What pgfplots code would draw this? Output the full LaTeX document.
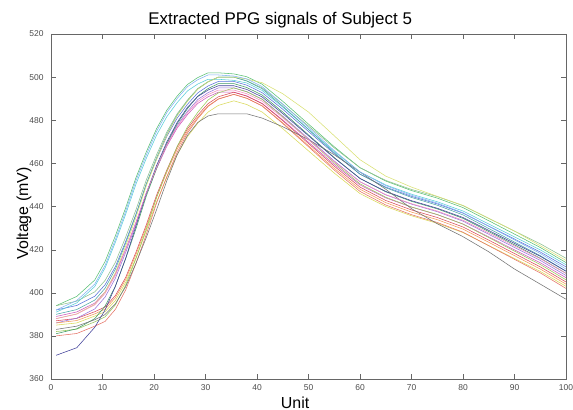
\documentclass[border=0pt]{standalone}
\usepackage{fontspec}
\setmainfont{Liberation Sans}
\usepackage{pgfplots}
\usepackage{pgfplotstable}
\pgfplotsset{compat=1.18}
\definecolor{k1}{rgb}{0.35,0.75,0.45}
\definecolor{k2}{rgb}{0.55,0.75,0.55}
\definecolor{k3}{rgb}{0.35,0.45,0.85}
\definecolor{k4}{rgb}{0.35,0.80,0.85}
\definecolor{k5}{rgb}{0.30,0.65,0.65}
\definecolor{k6}{rgb}{0.80,0.35,0.75}
\definecolor{k7}{rgb}{0.85,0.30,0.35}
\definecolor{k8}{rgb}{0.60,0.45,0.85}
\definecolor{k9}{rgb}{0.95,0.60,0.35}
\definecolor{k10}{rgb}{0.85,0.85,0.35}
\definecolor{k11}{rgb}{0.85,0.88,0.45}
\definecolor{k12}{rgb}{0.60,0.78,0.35}
\definecolor{k13}{rgb}{0.25,0.60,0.40}
\definecolor{k14}{rgb}{0.90,0.45,0.40}
\definecolor{k15}{rgb}{0.25,0.25,0.60}
\definecolor{k16}{rgb}{0.45,0.45,0.45}
\definecolor{k17}{rgb}{0.95,0.55,0.75}
\definecolor{k18}{rgb}{0.50,0.70,0.95}
\pgfplotstableread{
x c1 c2 c3 c4 c5 c6 c7 c8 c9 c10 c11 c12 c13 c14 c15 c16 c17 c18
1 394 394 392 391 390 389 387 386 386 385 388 382 381 380 371 383 388 392
5 398.3 396.1 394.1 395.3 392.2 391.1 388.1 388.2 387.1 386 390.2 383.1 383.3 381.1 374.5 384.5 390.1 396.4
8.5 405.9 400.4 398.4 402.9 396.6 395.2 391.2 392.5 390.2 389.2 394.7 386.5 388 384.5 384 387.5 394.4 404
10.5 414.5 405.7 403.7 411.5 402.1 400.4 393.4 398 392.4 391.2 400.3 388.8 393.8 386.7 392 389.9 399.7 412.7
12.5 426.4 414.1 412.1 423.4 410.9 408.8 398.7 406.7 397.7 396.4 409.3 394.4 403 392.3 403 394.9 408.1 424.7
14.5 439.4 425.8 423.8 436.4 423 420.2 407.1 418.7 406.1 404.8 421.6 403.5 415.8 401.3 416 402.8 419.8 437.8
16.5 453.4 438.5 436.5 450.4 436.2 432.7 418.8 431.8 417.8 416.2 435 415.9 429.7 413.6 431 413.7 432.5 452
18.5 465.3 452.3 450.3 462.3 450.5 446.2 431.5 446 430.5 428.7 449.6 429.5 444.8 427 446 425.6 446.3 463.9
20.5 476.1 464 462 473.1 462.6 457.6 445.3 457.9 444.3 442.2 461.9 444.2 457.6 441.6 459 438.5 458 474.8
22.5 484.7 474.6 472.6 481.7 473.6 468 457 468.8 456 453.6 473.1 456.6 469.2 453.9 470 452 468.6 483.6
24.5 491.2 483 481 488.2 482.4 476.4 467.6 477.6 466.6 464 482.1 467.9 478.4 465.1 479 464 477 490.1
26.5 496.6 489.4 487.4 493.6 489 482.6 476 484.1 475 472.4 488.8 476.9 485.4 474.1 486 473 483.4 495.6
28.5 499.8 494.7 492.7 496.8 494.5 487.8 482.4 489.6 481.4 478.6 494.4 483.7 491.2 480.8 491 479 488.7 498.8
30.5 502 497.9 495.9 499 497.8 490.9 487.7 492.8 486.7 483.8 497.8 489.4 494.7 486.4 494 482 491.9 501
32.5 502 500 498 499 500 493 490.9 495 489.9 486.9 500 492.7 497 489.8 496 483 494 501
35.5 501.5 500 498 498.5 500 493 493 495 492 489 500 495 497 492 496 483 494 500.5
38 500.2 498.3 496.3 497.3 498.2 491.3 491.2 493.3 490.2 487.3 499.1 493.2 495.2 490.2 494.3 483 492.3 499.2
41 496.7 495 492.8 493.8 494.6 487.8 487.7 489.8 486.7 483.8 497.4 489.7 491.7 486.6 490.8 481 488.9 495.6
45 488.8 487.4 485.1 486.1 486.5 480.1 479.8 481.9 478.8 476.1 492.3 481.6 483.8 478.5 483.1 477 481.2 487.5
50 478.2 477.3 474.8 475.8 475.7 469.8 469.2 471.5 468.2 465.8 483.8 471 473.2 467.7 472.8 471 471 476.7
55 467.7 467.2 464.5 465.5 464.9 459.5 458.7 461.1 457.7 455.5 472.8 460.3 462.7 456.9 462.5 464 460.8 465.9
60 458 458 455 456 455 450 449 451.5 448 446 461.7 450.5 453 447 453 456 451.5 456
65 451.8 452.1 449 450 448.7 444 442.8 445.4 441.8 440 454.1 444.3 446.8 440.7 447 448 445.5 449.7
70 447.4 447.9 444.7 445.7 444.2 439.7 438.4 441.1 437.4 435.7 449 439.8 442.4 436.2 442.7 439 441.3 445.2
75 443.9 444.6 441.2 442.2 440.6 436.2 434.9 437.6 433.9 432.2 444.7 436.3 438.9 432.6 439.2 432 437.9 441.6
80 439.5 440.4 436.9 437.9 436.1 431.9 430.5 433.2 429.5 427.9 440.5 431.8 434.5 428.1 434.9 426 433.6 437.1
85 433.4 434.5 430.9 431.9 429.8 425.9 424.4 427.1 423.4 421.9 434.5 425.6 428.4 421.8 428.9 419 427.7 430.8
90 427.2 428.6 424.9 425.9 423.5 419.9 418.2 421 417.2 415.9 428.6 419.3 422.2 415.5 422.9 411 421.7 424.5
95 421 422.7 418.9 419.9 417.2 413.9 412 415 411 409.9 421.8 413.1 416 409.2 416.9 404 415.8 418.2
100 414 416 412 413 410 407 405 408 404 403 415 406 409 402 410 397 409 411
}\data
\begin{document}
\begin{tikzpicture}
\useasboundingbox (-51bp,-31bp) rectangle (522bp,379bp);
\begin{axis}[
  at={(0,0)}, anchor=south west,
  scale only axis, width=515bp, height=345bp,
  xmin=0, xmax=100, ymin=360, ymax=520,
  xtick={0,10,...,100}, ytick={360,380,...,520},
  tick align=inside, major tick length=5bp,
  axis line style={black!60}, tick style={black!60},
  /pgf/number format/assume math mode=true,
  ticklabel style={font=\fontsize{8.5}{10}\selectfont, text=black!70},
  yticklabel style={xshift=-4bp},
  xticklabel style={yshift=-2bp},
  every axis title/.style={at={(axis description cs:0.445,1)}, anchor=base, yshift=9bp, font=\fontsize{17}{20}\selectfont},
  every axis x label/.style={at={(axis description cs:0.474,0)}, anchor=base, yshift=-29bp, font=\fontsize{16}{19}\selectfont},
  every axis y label/.style={at={(axis description cs:0,0.48)}, xshift=-23bp, rotate=90, anchor=base, font=\fontsize{16}{19}\selectfont},
  title={Extracted PPG signals of Subject 5},
  xlabel={Unit}, ylabel={Voltage (mV)},
  every axis plot/.append style={line width=0.55bp},
]
\addplot[k1] table[x=x,y=c1]{\data};
\addplot[k2] table[x=x,y=c2]{\data};
\addplot[k3] table[x=x,y=c3]{\data};
\addplot[k4] table[x=x,y=c4]{\data};
\addplot[k5] table[x=x,y=c5]{\data};
\addplot[k6] table[x=x,y=c6]{\data};
\addplot[k7] table[x=x,y=c7]{\data};
\addplot[k8] table[x=x,y=c8]{\data};
\addplot[k9] table[x=x,y=c9]{\data};
\addplot[k10] table[x=x,y=c10]{\data};
\addplot[k11] table[x=x,y=c11]{\data};
\addplot[k12] table[x=x,y=c12]{\data};
\addplot[k13] table[x=x,y=c13]{\data};
\addplot[k14] table[x=x,y=c14]{\data};
\addplot[k15] table[x=x,y=c15]{\data};
\addplot[k16] table[x=x,y=c16]{\data};
\addplot[k17] table[x=x,y=c17]{\data};
\addplot[k18] table[x=x,y=c18]{\data};
\end{axis}
\end{tikzpicture}
\end{document}
